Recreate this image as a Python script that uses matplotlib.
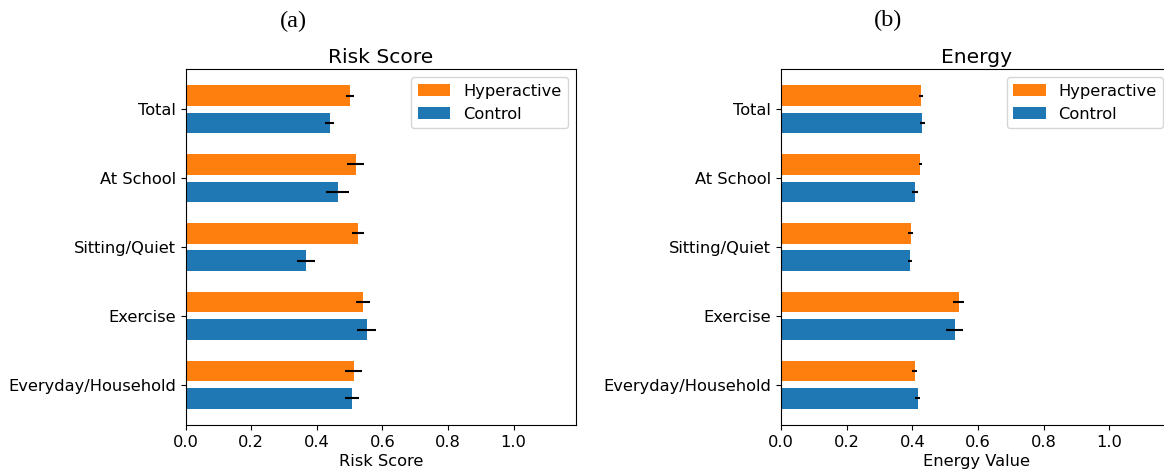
import numpy as np
import matplotlib.pyplot as plt

categories = ["Total", "At School", "Sitting/Quiet", "Exercise", "Everyday/Household"]

# risk score per activity group
risk_hyper = [0.501, 0.519, 0.525, 0.541, 0.513]
risk_hyper_err = [0.011, 0.026, 0.018, 0.022, 0.026]
risk_ctrl = [0.440, 0.464, 0.367, 0.553, 0.507]
risk_ctrl_err = [0.014, 0.035, 0.027, 0.029, 0.021]

# energy value per activity group
energy_hyper = [0.428, 0.425, 0.395, 0.541, 0.407]
energy_hyper_err = [0.006, 0.006, 0.007, 0.016, 0.007]
energy_ctrl = [0.431, 0.407, 0.392, 0.529, 0.416]
energy_ctrl_err = [0.008, 0.009, 0.006, 0.026, 0.007]

xticks = [0.0, 0.2, 0.4, 0.6, 0.8, 1.0]

ORANGE = "#ff7f0e"
BLUE = "#1f77b4"
FS = 11.7


def draw_panel(ax, hyper, hyper_err, ctrl, ctrl_err, title, xlabel):
    n = len(categories)
    y = np.arange(n)[::-1]
    h = 0.3
    ax.barh(y + 0.2, hyper, height=h, xerr=hyper_err, color=ORANGE,
            label="Hyperactive", error_kw=dict(ecolor="black", elinewidth=1.5))
    ax.barh(y - 0.2, ctrl, height=h, xerr=ctrl_err, color=BLUE,
            label="Control", error_kw=dict(ecolor="black", elinewidth=1.5))
    ax.set_yticks(y)
    ax.set_yticklabels(categories, fontsize=FS)
    ax.set_xticks(xticks)
    ax.set_xticklabels([f"{t:.1f}" for t in xticks], fontsize=FS)
    ax.set_xlim(0, 1.19)
    ax.set_title(title, fontsize=14.6, pad=4.5)
    ax.set_xlabel(xlabel, fontsize=FS, labelpad=3)
    ax.legend(loc="upper right", fontsize=FS)


fig = plt.figure(figsize=(11.64, 4.71), dpi=100)
ax1 = fig.add_axes([0.1594, 0.0977, 0.3354, 0.7558])
ax2 = fig.add_axes([0.671, 0.0977, 0.3354, 0.7558])

draw_panel(ax1, risk_hyper, risk_hyper_err, risk_ctrl, risk_ctrl_err,
           "Risk Score", "Risk Score")
draw_panel(ax2, energy_hyper, energy_hyper_err, energy_ctrl, energy_ctrl_err,
           "Energy", "Energy Value")

fig.text(293 / 1164, 1 - 21 / 471, "(a)", ha="center", va="center",
         family="Liberation Serif", fontsize=17.5)
fig.text(888 / 1164, 1 - 20 / 471, "(b)", ha="center", va="center",
         family="Liberation Serif", fontsize=17.5)

fig.savefig("out.png", dpi=100, facecolor="white")
